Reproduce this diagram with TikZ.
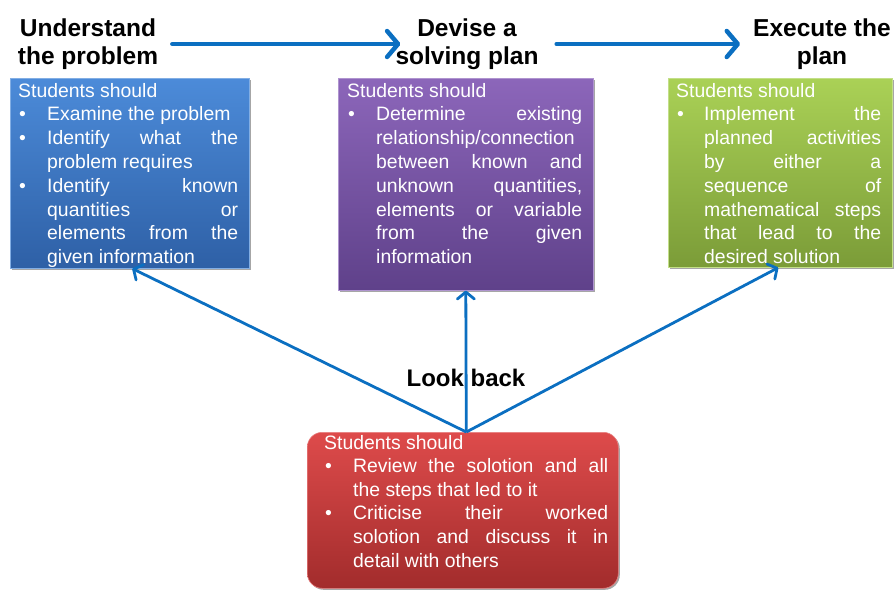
\documentclass[tikz,border=0pt]{standalone}
\usepackage{fontspec}
\setmainfont{Liberation Sans}
\usetikzlibrary{arrows.meta,shadows}
\definecolor{arrowblue}{HTML}{0B6FC1}
\definecolor{bluetop}{HTML}{4C8BD9}
\definecolor{bluebot}{HTML}{2E60A6}
\definecolor{purptop}{HTML}{8C66BA}
\definecolor{purpbot}{HTML}{5F418A}
\definecolor{greentop}{HTML}{AAD156}
\definecolor{greenbot}{HTML}{7B9C38}
\definecolor{redtop}{HTML}{DE4B4B}
\definecolor{redbot}{HTML}{A22C2C}
\newlength\bxind
\newlength\bxw
\newcommand\jl[1]{\hbox{\hspace*{\bxind}\makebox[\bxw][s]{#1}}}
\newcommand\lastl[1]{\hbox{\hspace*{\bxind}#1}}
\newcommand\bj[1]{\hbox{\makebox[\bxind][l]{\hspace{1pt}•}\makebox[\bxw][s]{#1}}}
\newcommand\bl[1]{\hbox{\makebox[\bxind][l]{\hspace{1pt}•}#1}}
\newcommand\bodyfont{\fontsize{19.4}{23.8}\selectfont\color{white}}
\tikzset{
  panel/.style={anchor=north west, inner sep=0pt, draw=#1top!70!white, line width=0.6pt,
    drop shadow={shadow xshift=1.5pt, shadow yshift=-1.5pt, opacity=0.35, fill=black}},
  title/.style={align=center, inner sep=0pt, font=\fontsize{24.5}{27.5}\selectfont\bfseries},
  bodytxt/.style={anchor=base west, inner sep=0pt, font=\bodyfont},
  toparrow/.style={draw=arrowblue, line width=4.5pt, line cap=round,
    -{Straight Barb[length=11pt,width=26pt,line cap=round,round]}},
  lowarrow/.style={draw=arrowblue, line width=2.8pt,
    -{Straight Barb[length=7pt,width=17pt,line cap=round,round]}}
}
\begin{document}
\begin{tikzpicture}[x=1pt,y=-1pt]
\useasboundingbox (0,0) rectangle (895,590);
% titles
\node[title] (t1) at (88,44) {Understand\\the problem};
\node[title] (t2) at (467,44) {Devise a\\solving plan};
\node[title] (t3) at (822,44) {Execute the\\plan};
\draw[toparrow, shorten <=14pt, shorten >=-5pt] (t1.east) -- (t2.west);
\draw[toparrow, shorten <=18pt, shorten >=13pt] (t2.east) -- (t3.west);
% panels
\node[panel=blue, top color=bluetop, bottom color=bluebot, minimum width=239pt, minimum height=190pt] (blue) at (10,78) {};
\node[panel=purp, top color=purptop, bottom color=purpbot, minimum width=255pt, minimum height=212pt] (purple) at (338,78) {};
\node[panel=green, top color=greentop, bottom color=greenbot, minimum width=224pt, minimum height=189pt] (green) at (668,78) {};
\node[panel=red, top color=redtop, bottom color=redbot, rounded corners=15pt, minimum width=311pt, minimum height=156pt] (red) at (307,432) {};
% panel texts
\node[bodytxt] (bluetxt) at (18,97) {\setlength\bxind{29pt}\setlength\bxw{191pt}\vtop{\baselineskip=23.8pt
  \hbox{Students should}
  \bl{Examine the problem}
  \bj{Identify what the}
  \lastl{problem requires}
  \bj{Identify known}
  \jl{quantities or}
  \jl{elements from the}
  \lastl{given information}}};
\node[bodytxt] (purpletxt) at (347,97) {\setlength\bxind{29pt}\setlength\bxw{206pt}\vtop{\baselineskip=23.8pt
  \hbox{Students should}
  \bj{Determine existing}
  \lastl{relationship/connection}
  \jl{between known and}
  \jl{unknown quantities,}
  \jl{elements or variable}
  \jl{from the given}
  \lastl{information}}};
\node[bodytxt] (greentxt) at (676,97) {\setlength\bxind{28pt}\setlength\bxw{177pt}\vtop{\baselineskip=23.8pt
  \hbox{Students should}
  \bj{Implement the}
  \jl{planned activities}
  \jl{by either a}
  \jl{sequence of}
  \jl{mathematical steps}
  \jl{that lead to the}
  \lastl{desired solution}}};
\node[bodytxt] (redtxt) at (324,449) {\setlength\bxind{29pt}\setlength\bxw{255pt}\vtop{\baselineskip=23.6pt
  \hbox{Students should}
  \bj{Review the solotion and all}
  \lastl{the steps that led to it}
  \bj{Criticise their worked}
  \jl{solotion and discuss it in}
  \lastl{detail with others}}};
% look back
\node[anchor=base, inner sep=0pt, font=\fontsize{24}{28}\selectfont\bfseries] (look) at (466,386) {Look back};
\coordinate (apex) at ([xshift=3.5pt]red.north);
\draw[lowarrow] (apex) -- ([xshift=2.5pt]blue.south);
\draw[lowarrow] (apex) -- (purple.south);
\draw[lowarrow] (apex) -- ([xshift=-2pt]green.south);
\end{tikzpicture}
\end{document}
